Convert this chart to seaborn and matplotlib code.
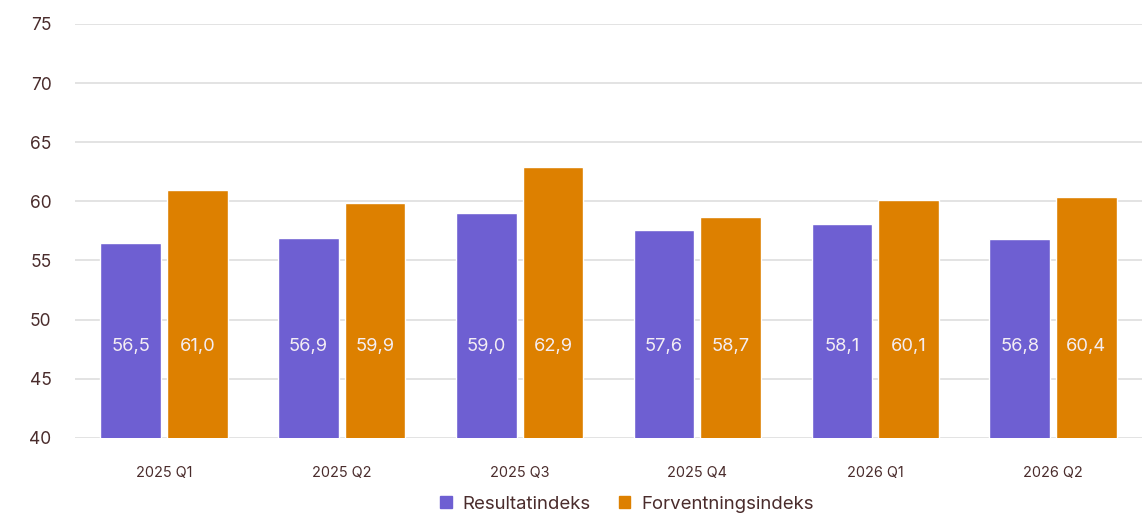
import seaborn as sns
import pandas as pd
import matplotlib.pyplot as plt
from matplotlib.patches import Patch

quarters = ['2025 Q1', '2025 Q2', '2025 Q3', '2025 Q4', '2026 Q1', '2026 Q2']
resultat = [56.5, 56.9, 59.0, 57.6, 58.1, 56.8]
forventning = [61.0, 59.9, 62.9, 58.7, 60.1, 60.4]
series_names = ['Resultatindeks', 'Forventningsindeks']
colors = ['#6e5fd2', '#dd8000']
text_col = '#4a2c2c'


def main():
    sns.set_style('white')
    plt.rcParams['font.family'] = ['Inter', 'DejaVu Sans']

    df = pd.DataFrame({
        'kvartal': quarters * 2,
        'verdi': resultat + forventning,
        'serie': [series_names[0]] * len(quarters) + [series_names[1]] * len(quarters),
    })

    fig = plt.figure(figsize=(11.42, 5.17), dpi=100)
    ax = fig.add_axes([0.0657, 0.153, 0.9343, 0.8007])

    sns.barplot(data=df, x='kvartal', y='verdi', hue='serie', palette=colors,
                width=0.75, gap=0.09, ax=ax, legend=False, saturation=1)

    ax.set_ylim(40, 75)
    ax.set_yticks(range(40, 80, 5))
    ax.yaxis.grid(True, color='#dedede', linewidth=1.2)
    ax.set_axisbelow(True)
    for s in ax.spines.values():
        s.set_visible(False)
    ax.tick_params(axis='y', length=0, pad=17, labelsize=12.5, labelcolor=text_col)
    ax.tick_params(axis='x', length=0, pad=20, labelsize=10.4, labelcolor=text_col)
    ax.set_xlabel('')
    ax.set_ylabel('')

    # value labels sit at a fixed height inside the bars
    for cont, vals in zip(ax.containers, [resultat, forventning]):
        for bar, v in zip(cont, vals):
            ax.text(bar.get_x() + bar.get_width() / 2, 47.7,
                    f'{v:.1f}'.replace('.', ','), ha='center', va='center',
                    color='#f4eef4', fontsize=13.2)

    handles = [Patch(color=c, label=n) for c, n in zip(colors, series_names)]
    fig.legend(handles=handles, loc='lower center', bbox_to_anchor=(0.549, -0.024),
               ncol=2, frameon=False, fontsize=13.4, labelcolor=text_col,
               handlelength=0.6, handleheight=0.6, handletextpad=0.6, columnspacing=1.5)

    fig.savefig('out.png', dpi=100)


if __name__ == '__main__':
    main()
